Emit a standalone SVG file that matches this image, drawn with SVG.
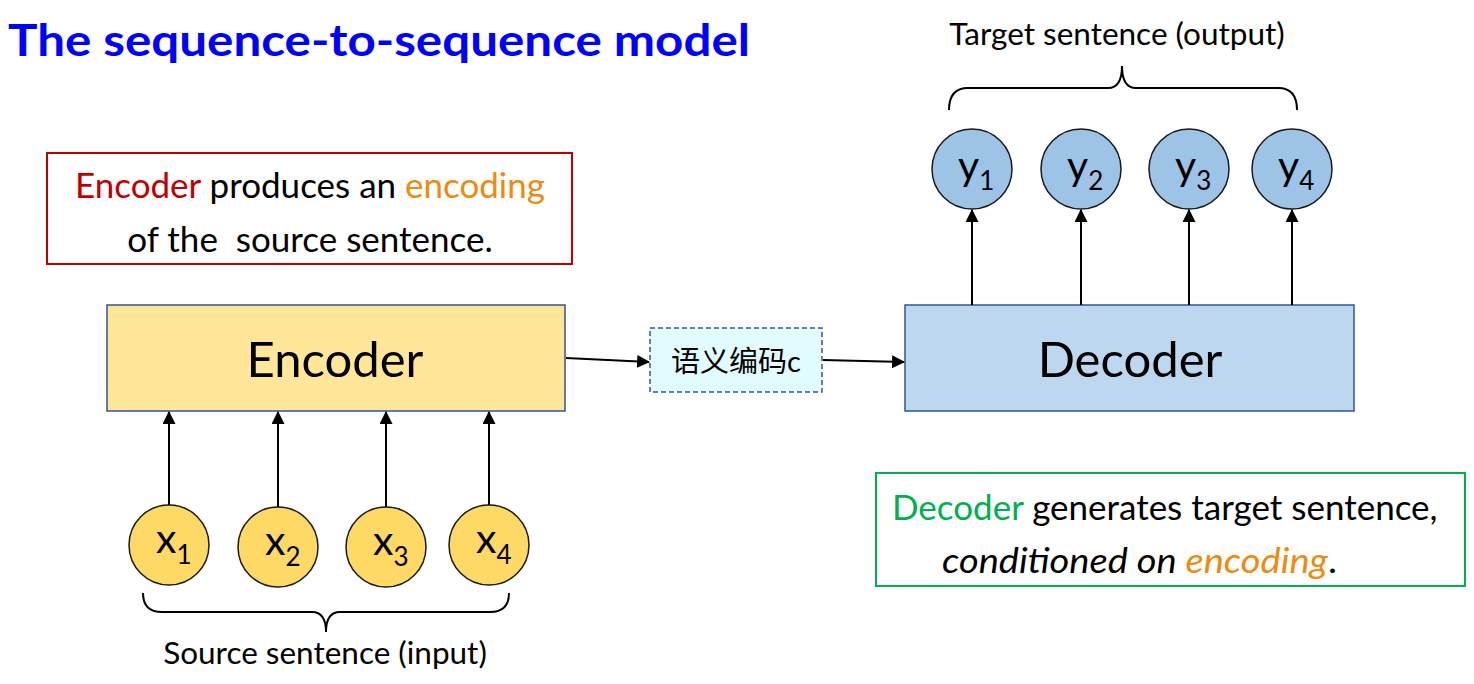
<svg xmlns="http://www.w3.org/2000/svg" width="1474" height="684" viewBox="0 0 1474 684">
<style>
text{font-family:Lato,"Open Sans","Noto Sans CJK SC",sans-serif;fill:#000}
.title{font-weight:700;font-size:44px;fill:#0000FF}
.note{font-size:35px}
.big{font-size:49px}
.lab{font-size:31.5px}
.sym{font-size:41px}
.sub{font-size:26px}
.org{fill:#EE8A0F}
.xc{fill:#FFD966;stroke:#1a1a1a;stroke-width:1.5}
.yc{fill:#9DC3E6;stroke:#1a1a1a;stroke-width:1.5}
.conn{stroke:#000;stroke-width:2;fill:none;marker-end:url(#ah)}
.brace{stroke:#000;stroke-width:2;fill:none}
</style>
<defs>
<marker id="ah" viewBox="0 0 12 12" refX="11" refY="6" markerWidth="13" markerHeight="13" markerUnits="userSpaceOnUse" orient="auto">
<path d="M0,0 L12,6 L0,12 Z" fill="#000"/>
</marker>
</defs>
<rect width="1474" height="684" fill="#fff"/>
<text class="title" x="8" y="56" textLength="742" lengthAdjust="spacingAndGlyphs">The sequence-to-sequence model</text>

<g id="enc-note">
<rect x="47" y="153" width="525" height="111" fill="#fff" stroke="#C00000" stroke-width="2"/>
<text class="note" x="310" y="198" text-anchor="middle"><tspan fill="#C00000">Encoder</tspan> produces an <tspan class="org">encoding</tspan></text>
<text class="note" x="310" y="252" text-anchor="middle" xml:space="preserve">of the  source sentence.</text>
</g>

<g id="encoder">
<rect x="107" y="305" width="458" height="106" fill="#FFE699" stroke="#2F5597" stroke-width="1.5"/>
<text class="big" x="335" y="377" text-anchor="middle">Encoder</text>
</g>

<g id="code">
<rect x="650" y="328" width="172" height="64" fill="#E2FBFF" stroke="#2F5597" stroke-width="1.5" stroke-dasharray="5,3"/>
<text x="736" y="372" text-anchor="middle" style="font-size:29px">语义编码c</text>
</g>

<g id="decoder">
<rect x="905" y="305" width="449" height="106" fill="#BDD7EE" stroke="#2F5597" stroke-width="1.5"/>
<text class="big" x="1130" y="377" text-anchor="middle">Decoder</text>
</g>

<g id="dec-note">
<rect x="876" y="473" width="589" height="113" fill="#fff" stroke="#00B050" stroke-width="2"/>
<text class="note" x="892" y="520"><tspan fill="#00B050">Decoder</tspan> generates target sentence,</text>
<text class="note" x="942" y="573" font-style="italic" textLength="395" lengthAdjust="spacingAndGlyphs">conditioned on <tspan class="org">encoding</tspan><tspan font-style="normal">.</tspan></text>
</g>

<g id="x1"><circle class="xc" cx="169" cy="545" r="40"/><text class="sym" x="156" y="553">x<tspan class="sub" dy="11">1</tspan></text></g>
<g id="x2"><circle class="xc" cx="278" cy="547" r="40"/><text class="sym" x="265" y="555">x<tspan class="sub" dy="11">2</tspan></text></g>
<g id="x3"><circle class="xc" cx="386" cy="547" r="40"/><text class="sym" x="373" y="555">x<tspan class="sub" dy="11">3</tspan></text></g>
<g id="x4"><circle class="xc" cx="489" cy="545" r="40"/><text class="sym" x="476" y="553">x<tspan class="sub" dy="11">4</tspan></text></g>

<g id="y1"><circle class="yc" cx="972" cy="169" r="40"/><text class="sym" x="958" y="180">y<tspan class="sub" dy="10">1</tspan></text></g>
<g id="y2"><circle class="yc" cx="1081" cy="169" r="40"/><text class="sym" x="1067" y="180">y<tspan class="sub" dy="10">2</tspan></text></g>
<g id="y3"><circle class="yc" cx="1189" cy="169" r="40"/><text class="sym" x="1175" y="180">y<tspan class="sub" dy="10">3</tspan></text></g>
<g id="y4"><circle class="yc" cx="1292" cy="169" r="40"/><text class="sym" x="1278" y="180">y<tspan class="sub" dy="10">4</tspan></text></g>

<g id="source-label">
<path class="brace" d="M143,593 Q143,612 162,612 L312,612 Q326,612 326,632 Q326,612 340,612 L490,612 Q509,612 509,593"/>
<text class="lab" x="325" y="664" text-anchor="middle">Source sentence (input)</text>
</g>
<g id="target-label">
<path class="brace" d="M949,110 Q949,88 968,88 L1108,88 Q1122,88 1122,66 Q1122,88 1136,88 L1278,88 Q1297,88 1297,110"/>
<text class="lab" x="1117" y="45" text-anchor="middle">Target sentence (output)</text>
</g>

<g id="connectors">
<line class="conn" x1="169" y1="505" x2="169" y2="412"/>
<line class="conn" x1="278" y1="507" x2="278" y2="412"/>
<line class="conn" x1="386" y1="507" x2="386" y2="412"/>
<line class="conn" x1="489" y1="505" x2="489" y2="412"/>
<line class="conn" x1="566" y1="358" x2="649" y2="362"/>
<line class="conn" x1="823" y1="360" x2="904" y2="362"/>
<line class="conn" x1="972" y1="305" x2="972" y2="210"/>
<line class="conn" x1="1081" y1="305" x2="1081" y2="210"/>
<line class="conn" x1="1189" y1="305" x2="1189" y2="210"/>
<line class="conn" x1="1292" y1="305" x2="1292" y2="210"/>
</g>
</svg>
